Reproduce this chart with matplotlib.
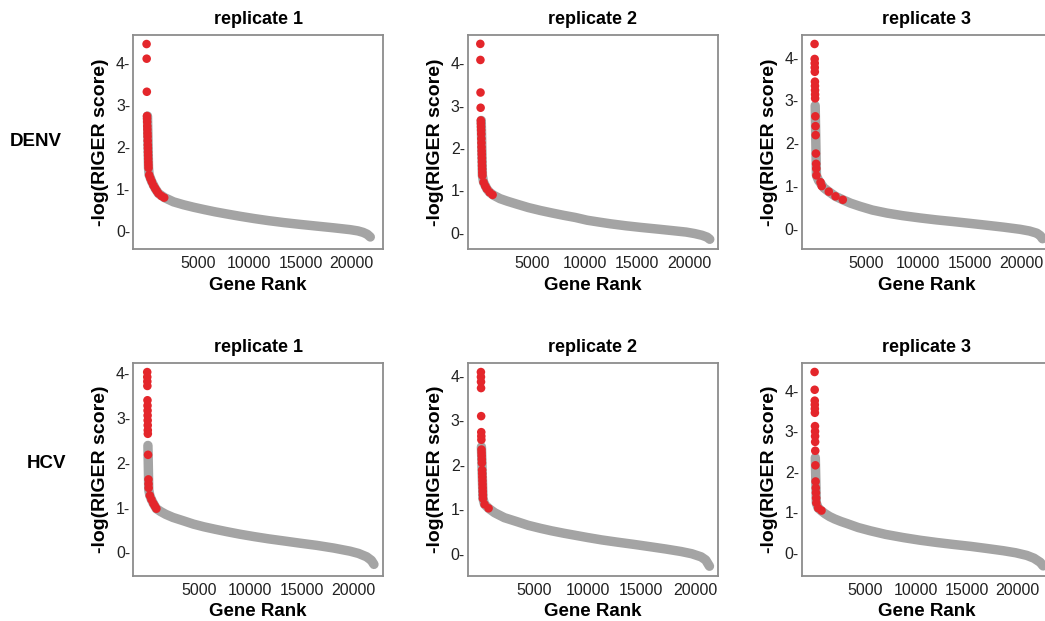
import matplotlib
matplotlib.use('Agg')
import matplotlib.pyplot as plt

plt.rcParams['font.family'] = ['Liberation Sans', 'DejaVu Sans']

# ranks and -log(RIGER) scores
# red = hits, gray = the rest of the ranked gene list (dense band)

# DENV replicate 1
denv1_red_rank = [10, 20, 35, 50, 60, 70, 80, 90, 100, 110, 120, 130, 140, 150, 160, 170, 180, 190, 200,
                  265, 380, 519, 680, 850, 1000, 1171, 1450, 1727]
denv1_red_score = [4.46, 4.11, 3.32, 2.74, 2.68, 2.60, 2.50, 2.42, 2.33, 2.25, 2.15, 2.05, 1.97, 1.88, 1.80,
                   1.72, 1.64, 1.57, 1.50, 1.33, 1.25, 1.17, 1.08, 1.01, 0.95, 0.89, 0.83, 0.79]
denv1_gray_rank = [100, 200, 265, 519, 850, 1171, 1756, 2632, 3606, 4600, 5622, 6700, 7824, 9100, 10493,
                   11900, 13346, 15000, 16590, 18200, 19843, 20600, 21100, 21500, 21800]
denv1_gray_score = [2.74, 1.50, 1.33, 1.17, 1.01, 0.89, 0.79, 0.69, 0.62, 0.56, 0.505, 0.45, 0.40, 0.345,
                    0.29, 0.24, 0.195, 0.15, 0.11, 0.07, 0.025, -0.005, -0.04, -0.085, -0.15]

# DENV replicate 2
denv2_red_rank = [10, 20, 30, 40, 60, 70, 80, 90, 100, 110, 120, 130, 140, 150, 160, 170, 180, 190, 200,
                  210, 321, 480, 638, 900, 1185]
denv2_red_score = [4.46, 4.08, 3.31, 2.95, 2.65, 2.58, 2.50, 2.42, 2.33, 2.22, 2.12, 2.02, 1.93, 1.85,
                   1.76, 1.67, 1.58, 1.50, 1.42, 1.35, 1.19, 1.10, 1.03, 0.95, 0.89]
denv2_gray_rank = [100, 210, 321, 638, 900, 1281, 1900, 2600, 3518, 4600, 5764, 6900, 8001, 9100, 10238,
                   11400, 12484, 13900, 15364, 17000, 18561, 19700, 20500, 21200, 21700, 21950]
denv2_gray_score = [2.65, 1.35, 1.19, 1.03, 0.95, 0.88, 0.80, 0.74, 0.67, 0.59, 0.52, 0.46, 0.405, 0.355,
                    0.29, 0.245, 0.205, 0.16, 0.12, 0.08, 0.04, 0.01, -0.025, -0.065, -0.11, -0.16]

# DENV replicate 3
denv3_red_rank = [10, 20, 25, 30, 35, 45, 50, 55, 60, 65, 85, 100, 115, 140, 160, 175, 190, 584, 700,
                  1386, 2034, 2740]
denv3_red_score = [4.32, 3.97, 3.87, 3.77, 3.67, 3.44, 3.34, 3.24, 3.14, 3.05, 2.63, 2.40, 2.19, 1.76,
                   1.52, 1.41, 1.25, 1.09, 1.00, 0.87, 0.76, 0.68]
denv3_gray_rank = [70, 190, 400, 584, 900, 1386, 2034, 2740, 3500, 4422, 5600, 6995, 8500, 10225, 11800,
                   13445, 15000, 16665, 18300, 19890, 20800, 21497, 21850, 22050]
denv3_gray_score = [2.88, 1.25, 1.13, 1.07, 0.96, 0.87, 0.76, 0.68, 0.60, 0.525, 0.44, 0.37, 0.31, 0.255,
                    0.21, 0.17, 0.13, 0.085, 0.04, -0.01, -0.05, -0.10, -0.16, -0.23]

# HCV replicate 1
hcv1_red_rank = [10, 15, 20, 25, 35, 40, 45, 50, 55, 60, 65, 70, 90, 130, 140, 150, 264, 419, 612, 760,
                 902]
hcv1_red_score = [4.03, 3.92, 3.82, 3.72, 3.40, 3.28, 3.17, 3.06, 2.95, 2.84, 2.73, 2.65, 2.18, 1.63,
                  1.53, 1.44, 1.27, 1.18, 1.09, 1.03, 0.975]
hcv1_gray_rank = [80, 160, 264, 419, 612, 902, 1327, 1800, 2500, 3578, 4500, 5510, 6600, 7760, 9000,
                  10407, 11800, 13238, 14800, 16455, 18100, 19681, 20500, 21285, 21750, 22000]
hcv1_gray_score = [2.39, 1.40, 1.27, 1.18, 1.09, 0.975, 0.91, 0.85, 0.78, 0.70, 0.63, 0.57, 0.515, 0.46,
                   0.405, 0.35, 0.30, 0.255, 0.205, 0.155, 0.095, 0.025, -0.025, -0.10, -0.18, -0.27]

# HCV replicate 2
hcv2_red_rank = [10, 15, 20, 25, 35, 45, 50, 55, 65, 75, 85, 95, 105, 125, 135, 145, 155, 165, 175, 185,
                 195, 205, 353, 728]
hcv2_red_score = [4.08, 3.97, 3.86, 3.72, 3.09, 2.73, 2.64, 2.56, 2.34, 2.27, 2.20, 2.12, 2.04, 1.88,
                  1.80, 1.72, 1.64, 1.56, 1.48, 1.40, 1.32, 1.24, 1.11, 1.02]
hcv2_gray_rank = [60, 205, 353, 728, 1300, 2200, 3381, 4400, 5575, 6600, 7759, 8800, 9944, 11300, 12756,
                  14300, 15888, 17300, 18700, 19700, 20575, 21000, 21353]
hcv2_gray_score = [2.40, 1.24, 1.11, 1.02, 0.92, 0.81, 0.72, 0.64, 0.57, 0.515, 0.46, 0.415, 0.365, 0.31,
                   0.26, 0.21, 0.155, 0.105, 0.05, 0.00, -0.07, -0.14, -0.28]

# HCV replicate 3
hcv3_red_rank = [10, 20, 25, 30, 35, 40, 50, 55, 60, 65, 75, 90, 110, 130, 145, 160, 180, 366, 690]
hcv3_red_score = [4.47, 4.03, 3.76, 3.66, 3.56, 3.46, 3.13, 3.00, 2.88, 2.74, 2.52, 2.16, 1.76, 1.60,
                  1.48, 1.35, 1.23, 1.10, 1.04]
hcv3_gray_rank = [80, 180, 366, 690, 1054, 1500, 2000, 2600, 3180, 4300, 5483, 7000, 8759, 10400, 12036,
                  13700, 15322, 17000, 18599, 19800, 20891, 21600, 22210, 22500]
hcv3_gray_score = [2.35, 1.23, 1.10, 1.03, 0.96, 0.89, 0.83, 0.77, 0.72, 0.62, 0.54, 0.45, 0.37, 0.305,
                   0.25, 0.20, 0.155, 0.10, 0.045, -0.005, -0.07, -0.14, -0.24, -0.33]

replicates = ['replicate 1', 'replicate 2', 'replicate 3']
viruses = ['DENV', 'HCV']
x_ticks = [5000, 10000, 15000, 20000]
y_ticks = [0, 1, 2, 3, 4]

RED = '#e4262b'
GRAY = '#a4a4a4'
W, H = 1045, 621


def draw_panel(ax, gray_rank, gray_score, red_rank, red_score, xlim, ylim, title):
    # gray band is a dense run of dots -> thick round line, hits on top
    ax.plot(gray_rank, gray_score, color=GRAY, lw=6.8, solid_capstyle='round',
            solid_joinstyle='round', zorder=2)
    ax.scatter(red_rank, red_score, s=38, color=RED, edgecolors='none', zorder=3)

    ax.set_xlim(*xlim)
    ax.set_ylim(*ylim)
    ax.set_xticks(x_ticks)
    ax.set_xticklabels([str(t) for t in x_ticks])
    ax.set_yticks(y_ticks)
    ax.set_yticklabels(['%d-' % t for t in y_ticks])
    ax.tick_params(axis='both', length=0, labelsize=11.5, colors='#222222')
    ax.tick_params(axis='y', pad=2)
    ax.tick_params(axis='x', pad=5)
    for s in ax.spines.values():
        s.set_color('#8c8c8c')
        s.set_linewidth(1.3)

    ax.set_title(title, fontsize=13, fontweight='bold', pad=8)
    ax.set_xlabel('Gene Rank', fontsize=13.5, fontweight='bold', labelpad=4)
    ax.set_ylabel('-log(RIGER score)', fontsize=14, fontweight='bold', labelpad=5)


def main():
    fig = plt.figure(figsize=(W / 100, H / 100), dpi=100)

    panels = [
        [(denv1_gray_rank, denv1_gray_score, denv1_red_rank, denv1_red_score,
          (-1312, 23038), (-0.437, 4.676)),
         (denv2_gray_rank, denv2_gray_score, denv2_red_rank, denv2_red_score,
          (-1196, 22708), (-0.39, 4.67)),
         (denv3_gray_rank, denv3_gray_score, denv3_red_rank, denv3_red_score,
          (-1234, 22941), (-0.47, 4.53))],
        [(hcv1_gray_rank, hcv1_gray_score, hcv1_red_rank, hcv1_red_score,
          (-1368, 22879), (-0.53, 4.24)),
         (hcv2_gray_rank, hcv2_gray_score, hcv2_red_rank, hcv2_red_score,
          (-1222, 22122), (-0.50, 4.29)),
         (hcv3_gray_rank, hcv3_gray_score, hcv3_red_rank, hcv3_red_score,
          (-1258, 23342), (-0.58, 4.70))],
    ]

    # axes boxes in pixels (left, top, bottom)
    lefts = [133, 467.7, 801.7]
    rows = [(35, 249), (362.7, 576)]

    for r, (top, bottom) in enumerate(rows):
        for c, left in enumerate(lefts):
            ax = fig.add_axes([left / W, 1 - bottom / H, 250 / W, (bottom - top) / H])
            g_rank, g_score, r_rank, r_score, xlim, ylim = panels[r][c]
            draw_panel(ax, g_rank, g_score, r_rank, r_score, xlim, ylim, replicates[c])

    fig.text(36 / W, 1 - 142 / H, viruses[0], ha='center', va='center', fontsize=13.5, fontweight='bold')
    fig.text(46 / W, 1 - 464 / H, viruses[1], ha='center', va='center', fontsize=13.5, fontweight='bold')

    fig.savefig('out.png', dpi=100, facecolor='white')


if __name__ == '__main__':
    main()
